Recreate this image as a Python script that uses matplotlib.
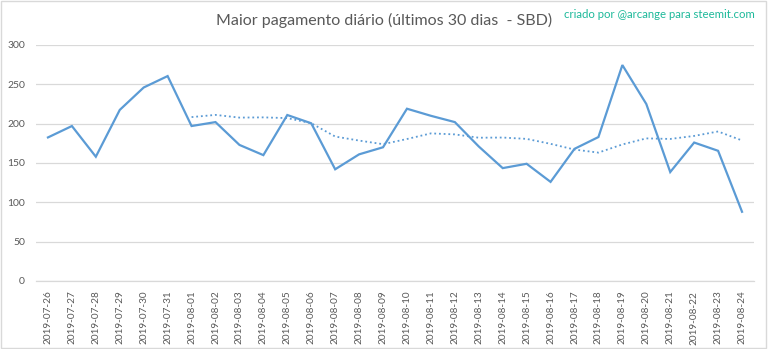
import matplotlib
matplotlib.use("Agg")
import matplotlib.pyplot as plt
import pandas as pd

# Daily maximum payout (SBD), last 30 days
dates = ["2019-07-26", "2019-07-27", "2019-07-28", "2019-07-29", "2019-07-30",
         "2019-07-31", "2019-08-01", "2019-08-02", "2019-08-03", "2019-08-04",
         "2019-08-05", "2019-08-06", "2019-08-07", "2019-08-08", "2019-08-09",
         "2019-08-10", "2019-08-11", "2019-08-12", "2019-08-13", "2019-08-14",
         "2019-08-15", "2019-08-16", "2019-08-17", "2019-08-18", "2019-08-19",
         "2019-08-20", "2019-08-21", "2019-08-22", "2019-08-23", "2019-08-24"]
max_payout = [182.5, 197, 158, 217.5, 246, 260.5, 197, 202, 173, 160,
              211, 200.5, 142, 161, 170, 219, 210, 202, 171, 143.5,
              149, 126, 168, 183, 274.5, 225, 138.5, 176, 165.5, 88]
y_ticks = [0, 50, 100, 150, 200, 250, 300]

# 7-day moving average trend line
ma_window = 7
moving_avg = pd.Series(max_payout).rolling(ma_window).mean()

blue = "#5B9BD5"
grey_text = "#595959"
grid_col = "#D9D9D9"
font = ["Lato", "DejaVu Sans"]

fig = plt.figure(figsize=(7.68, 3.49), dpi=100)
ax = fig.add_axes([36 / 768, 1 - 281 / 349, 718 / 768, 236 / 349])

x = list(range(len(dates)))
ax.plot(x, max_payout, color=blue, lw=1.6, solid_joinstyle="miter", zorder=3)
ax.plot(x, moving_avg, color=blue, lw=1.3, linestyle=(0, (1, 1.6)), zorder=3)

ax.set_xlim(-0.5, len(dates) - 0.5)
ax.set_ylim(0, 300)
ax.set_yticks(y_ticks)
ax.set_xticks(x)
ax.set_xticklabels(dates, rotation=90, fontsize=7.2, color=grey_text, family=font)
for lbl in ax.get_yticklabels():
    lbl.set_fontsize(7.5)
    lbl.set_color(grey_text)
    lbl.set_family(font)
ax.tick_params(axis="both", length=0)
ax.tick_params(axis="x", pad=7)
ax.tick_params(axis="y", pad=8)
ax.grid(axis="y", color=grid_col, lw=0.9)
ax.set_axisbelow(True)
for side in ["top", "right", "left"]:
    ax.spines[side].set_visible(False)
ax.spines["bottom"].set_color(grid_col)
ax.spines["bottom"].set_linewidth(0.9)

fig.text(384 / 768, 1 - 20 / 349, "Maior pagamento diário (últimos 30 dias  - SBD)",
         ha="center", va="center", fontsize=11.5, color=grey_text, family=font)
fig.text(755 / 768, 1 - 14 / 349, "criado por @arcange para steemit.com",
         ha="right", va="center", fontsize=8.2, color="#1DB99A", family=font)

# thin light frame around the whole figure
fig.patches.append(plt.Rectangle((0.001, 0.002), 0.997, 0.995, transform=fig.transFigure,
                                 fill=False, edgecolor="#D9D9D9", lw=1))

fig.savefig("out.png", dpi=100)
